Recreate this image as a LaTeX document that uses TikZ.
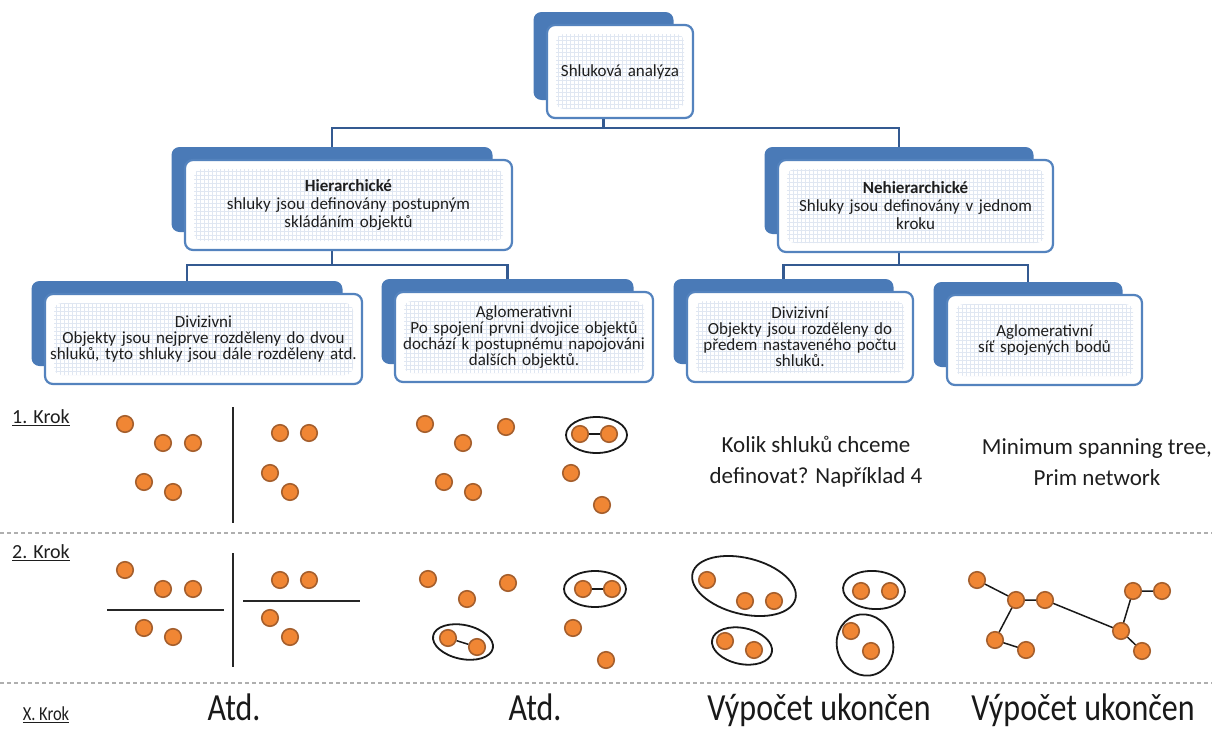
\documentclass[tikz,border=0pt]{standalone}
\usepackage{fontspec}
\setmainfont{Carlito}
\usetikzlibrary{shapes.geometric}
\pgfdeclarelayer{background}
\pgfsetlayers{background,main}
\definecolor{boxblue}{RGB}{74,122,183}
\definecolor{boxedge}{RGB}{84,131,190}
\definecolor{connblue}{RGB}{52,90,145}
\definecolor{gridblue}{RGB}{224,231,242}
\definecolor{dotfill}{RGB}{240,134,52}
\definecolor{dotedge}{RGB}{165,95,45}
\definecolor{inkgray}{RGB}{30,30,30}
\definecolor{sepgray}{RGB}{175,175,175}
\hyphenpenalty=10000
\exhyphenpenalty=10000

% two-layer box: shadow plate behind a framed, gridded card
\newcommand\smartbox[7][]{%
  \node[backrect, minimum width=#5pt-6pt, minimum height=#6pt-5pt] (#2B) at (#3-16.5,#4-15.5) {};
  \node[frontrect, #1, minimum width=#5pt, minimum height=#6pt, text width=#5pt-6pt] (#2) at (#3,#4) {#7};
}
\newcommand\dotat[3]{\node[dot] (#1) at (#2,#3) {};}

\begin{document}
\begin{tikzpicture}[x=1pt,y=-1pt,
  backrect/.style={rectangle, fill=boxblue, rounded corners=8pt, inner sep=0pt},
  frontrect/.style={rectangle, draw=boxedge, line width=2.2pt, fill=white,
    rounded corners=8pt, inner sep=0pt, align=center, text=inkgray,
    font=\fontsize{17}{16}\selectfont,
    path picture={
      \clip ([shift={(9pt,9pt)}]path picture bounding box.south west) rectangle
            ([shift={(-9pt,-9pt)}]path picture bounding box.north east);
      \draw[gridblue, line width=0.5pt, step=4pt]
        (path picture bounding box.south west) grid (path picture bounding box.north east);}},
  midtext/.style={font=\fontsize{17}{18}\selectfont},
  conn/.style={draw=connblue, line width=2.2pt},
  dot/.style={circle, draw=dotedge, fill=dotfill, line width=1.6pt, inner sep=0pt, minimum size=16.5pt},
  clus/.style={ellipse, draw=black!90, line width=1.8pt, inner sep=0pt},
  link/.style={draw=black!90, line width=1.5pt},
  cut/.style={draw=black!85, line width=1.6pt},
  sep/.style={draw=sepgray, line width=1.2pt, dash pattern=on 4pt off 3pt},
  steplabel/.style={text=inkgray, font=\fontsize{20}{22}\selectfont},
  note/.style={text=inkgray, align=center, font=\fontsize{23}{31}\selectfont},
  endtext/.style={text=black!90, anchor=base, font=\fontsize{32}{34}\selectfont},
]
\useasboundingbox (0,0) rectangle (1212,728);

% ---------- hierarchy of methods ----------
\smartbox{top}{620}{71.5}{146}{93}{Shluková analýza}
\smartbox[midtext]{hier}{348.5}{205}{327}{90}{\textbf{Hierarchické}\\shluky jsou definovány postupným\\skládáním objektů}
\smartbox[midtext]{non}{915.5}{206}{275}{92}{\textbf{Nehierarchické}\\Shluky jsou definovány  v jednom\\kroku}
\smartbox{divA}{203.5}{339}{317}{90}{Divizivni\\Objekty jsou nejprve rozděleny do dvou\\shluků, tyto shluky jsou dále rozděleny atd.}
\smartbox{agloA}{524}{337}{258}{90}{Aglomerativni\\Po spojení prvni dvojice objektů\\dochází k postupnému napojováni\\dalších objektů.}
\smartbox{divB}{800}{337}{226}{90}{Divizivní\\Objekty jsou rozděleny do\\předem nastaveného počtu\\shluků.}
\smartbox{agloB}{1044.5}{340}{195}{90}{Aglomerativní\\síť spojených bodů}

\coordinate (bus1) at (0,128);
\coordinate (bus2) at (0,265);
\begin{pgfonlayer}{background}
  \draw[conn] (topB.center) -- (topB.center |- bus1) -| (hierB.center);
  \draw[conn] (topB.center |- bus1) -| (nonB.center);
  \draw[conn] (hierB.center) -- (hierB.center |- bus2) -| (divAB.center);
  \draw[conn] (hierB.center |- bus2) -| (agloAB.center);
  \draw[conn] (nonB.center) -- (nonB.center |- bus2) -| (divBB.center);
  \draw[conn] (nonB.center |- bus2) -| (agloBB.center);
\end{pgfonlayer}

% ---------- step rows ----------
\coordinate (s1a) at (0,533);  \coordinate (s1b) at (1212,533);
\coordinate (s2a) at (0,683);  \coordinate (s2b) at (1212,683);
\draw[sep] (s1a) -- (s1b);
\draw[sep] (s2a) -- (s2b);

\node[steplabel] (k1) at (41,418) {\underline{1. Krok}};
\node[steplabel] (k2) at (41,553) {\underline{2. Krok}};
\node[steplabel, anchor=base, font=\fontsize{16.5}{18}\selectfont] (kx) at (46,720) {\scalebox{1}[1.2]{\underline{X. Krok}}};

% divisive hierarchical: step 1
\coordinate (v1a) at (233,407); \coordinate (v1b) at (233,523);
\draw[cut] (v1a) -- (v1b);
\dotat{a1}{125}{424} \dotat{a2}{163}{443} \dotat{a3}{193}{443}
\dotat{a4}{144}{482} \dotat{a5}{173}{492}
\dotat{a6}{280}{433} \dotat{a7}{309}{433} \dotat{a8}{270}{473} \dotat{a9}{290}{492}

% divisive hierarchical: step 2
\coordinate (v2a) at (233,553); \coordinate (v2b) at (233,667);
\coordinate (h2a) at (107,610); \coordinate (h2b) at (224,610);
\coordinate (h2c) at (243,601); \coordinate (h2d) at (360,601);
\draw[cut] (v2a) -- (v2b);
\draw[cut] (h2a) -- (h2b);
\draw[cut] (h2c) -- (h2d);
\dotat{b1}{125}{570} \dotat{b2}{163}{589} \dotat{b3}{193}{589}
\dotat{b4}{144}{628} \dotat{b5}{173}{637}
\dotat{b6}{280}{580} \dotat{b7}{309}{580} \dotat{b8}{270}{618} \dotat{b9}{290}{637}

% agglomerative hierarchical: step 1
\dotat{c1}{425}{424} \dotat{c2}{463}{443} \dotat{c3}{506}{427}
\dotat{c4}{444}{482} \dotat{c5}{473}{492}
\dotat{c6}{580}{434} \dotat{c7}{609}{434} \dotat{c8}{571}{473} \dotat{c9}{602}{505}
\draw[link] (c6) -- (c7);
\node[clus, minimum width=61pt, minimum height=36pt] (ce1) at (596.5,435) {};

% agglomerative hierarchical: step 2
\dotat{d1}{428}{579} \dotat{d2}{467}{599} \dotat{d3}{508}{583}
\dotat{d6}{583}{589} \dotat{d7}{612}{589} \dotat{d8}{573}{628} \dotat{d9}{606}{660}
\dotat{d4}{448}{638} \dotat{d5}{477}{647}
\draw[link] (d6) -- (d7);
\draw[link] (d4) -- (d5);
\node[clus, minimum width=62pt, minimum height=36pt] (de1) at (595,589) {};
\node[clus, minimum width=61pt, minimum height=34pt, rotate=-12] (de2) at (463,642) {};

% non-hierarchical divisive
\node[note] (q1) at (816,462) {Kolik shluků chceme\\definovat? Například 4};
\dotat{e1}{707}{580} \dotat{e2}{745}{601} \dotat{e3}{774}{601}
\dotat{e4}{725}{641} \dotat{e5}{754}{650}
\dotat{e6}{861}{591} \dotat{e7}{890}{591} \dotat{e8}{851}{631} \dotat{e9}{871}{651}
\node[clus, minimum width=106pt, minimum height=56pt, rotate=-14] (ee1) at (744,586) {};
\node[clus, minimum width=61pt, minimum height=36pt, rotate=-12] (ee2) at (742,646) {};
\node[clus, minimum width=62pt, minimum height=38pt, rotate=-4] (ee3) at (874,590) {};
\node[clus, minimum width=62pt, minimum height=56pt, rotate=-70] (ee4) at (865,645) {};

% non-hierarchical agglomerative: minimum spanning tree
\node[note] (q2) at (1097,462) {Minimum spanning tree,\\Prim network};
\dotat{m1}{977}{580} \dotat{m2}{1016}{600} \dotat{m3}{1045}{600}
\dotat{m4}{995}{640} \dotat{m5}{1026}{650}
\dotat{m6}{1133}{591} \dotat{m7}{1162}{591} \dotat{m8}{1121}{631} \dotat{m9}{1142}{651}
\begin{pgfonlayer}{background}
  \draw[link] (m1.center) -- (m2.center) -- (m3.center) -- (m8.center) -- (m6.center) -- (m7.center);
  \draw[link] (m2.center) -- (m4.center) -- (m5.center);
  \draw[link] (m8.center) -- (m9.center);
\end{pgfonlayer}

% final row
\node[endtext] (x1) at (234,720) {\scalebox{1}[1.2]{Atd.}};
\node[endtext] (x2) at (535,720) {\scalebox{1}[1.2]{Atd.}};
\node[endtext] (x3) at (819,720) {\scalebox{1}[1.2]{Výpočet ukončen}};
\node[endtext] (x4) at (1083,720) {\scalebox{1}[1.2]{Výpočet ukončen}};
\end{tikzpicture}
\end{document}
